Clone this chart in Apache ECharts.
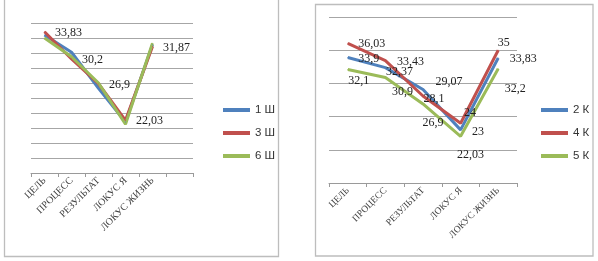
<!DOCTYPE html>
<html>
<head>
<meta charset="utf-8">
<script src="https://cdn.jsdelivr.net/npm/echarts@6/dist/echarts.min.js"></script>
<style>
  html, body { margin: 0; padding: 0; background: #fff; }
  #main { width: 598px; height: 261px; }
</style>
</head>
<body>
<div id="main"></div>
<script>
// левая диаграмма (Ш)
const categoriesLeft = ["ЦЕЛЬ", "ПРОЦЕСС", "РЕЗУЛЬТАТ", "ЛОКУС Я", "ЛОКУС ЖИЗНЬ", ""];
const namesLeft = ["1 Ш", "3 Ш", "6 Ш"];
const values1Sh = [33.4, 31.1, 26.3, 21.8, 32.1];
const values3Sh = [33.83, 30.2, 26.9, 22.03, 31.87];
const values6Sh = [33.0, 30.5, 27.0, 21.5, 32.3];

// правая диаграмма (К)
const categoriesRight = ["ЦЕЛЬ", "ПРОЦЕСС", "РЕЗУЛЬТАТ", "ЛОКУС Я", "ЛОКУС ЖИЗНЬ"];
const namesRight = ["2 К", "4 К", "5 К"];
const values2K = [33.9, 32.37, 29.07, 23, 33.83];
const values4K = [36.03, 33.43, 28.1, 24, 35];
const values5K = [32.1, 30.9, 26.9, 22.03, 32.2];

// сдвиги подписей (в исходнике подписи двигали вручную)
const offsets2K = [[10, 1], [0, 4], [12, -8], [11, 2], [11, 1]];
const offsets4K = [[10, 0], [11, 1], [0, 3], [3, -10], [-1, -7]];
const offsets5K = [[0, 11], [6, 14], [-1, 19], [-4, 19], [6, 20]];

const colors = ["#4F81BD", "#C0504D", "#9BBB59"];
const fmt = v => String(v).replace(".", ",");
const labelFont = { fontFamily: "Liberation Serif", fontSize: 12, color: "#222" };

function withOffsets(values, offsets) {
  return values.map((v, i) => ({
    value: v,
    label: { show: true, position: "right", distance: 0, offset: offsets[i] }
  }));
}

function lineSeries(name, data, color, idx, label) {
  return {
    name: name,
    type: "line",
    xAxisIndex: idx,
    yAxisIndex: idx,
    data: data,
    symbol: "circle",
    symbolSize: 1,
    lineStyle: { color: color, width: 3 },
    itemStyle: { color: color },
    label: label || { show: false },
    animation: false
  };
}

function catAxis(idx, data, size) {
  return {
    type: "category",
    gridIndex: idx,
    data: data,
    boundaryGap: true,
    axisLine: { lineStyle: { color: "#9a9a9a" } },
    axisTick: { show: true, length: 4, lineStyle: { color: "#9a9a9a" } },
    axisLabel: {
      rotate: 45,
      interval: 0,
      margin: 6,
      fontFamily: "Liberation Serif",
      fontSize: size,
      color: "#404040"
    },
    splitLine: { show: false }
  };
}

function valAxis(idx, min, max, interval) {
  return {
    type: "value",
    gridIndex: idx,
    min: min,
    max: max,
    interval: interval,
    axisLine: { show: false },
    axisTick: { show: false },
    axisLabel: { show: false },
    splitLine: { lineStyle: { color: "#a6a6a6", width: 1 } }
  };
}

function legendAt(left, top, names) {
  return {
    orient: "vertical",
    left: left,
    top: top,
    data: names,
    icon: "rect",
    itemWidth: 27,
    itemHeight: 4,
    itemGap: 9,
    itemTextGap: 3,
    selectedMode: false,
    textStyle: { fontFamily: "Liberation Sans", fontSize: 11.5, color: "#333", lineHeight: 14 }
  };
}

let chart = echarts.init(document.getElementById("main"));
let option = {
  animation: false,
  color: colors,
  graphic: [
    { type: "rect", shape: { x: 4.5, y: -3, width: 274, height: 259.5 }, style: { fill: "none", stroke: "#bdbdbd", lineWidth: 1.3 } },
    { type: "rect", shape: { x: 315.5, y: 4.5, width: 277.5, height: 251.5 }, style: { fill: "none", stroke: "#bdbdbd", lineWidth: 1.3 } }
  ],
  grid: [
    { left: 31, top: 23, width: 162, height: 150 },
    { left: 329, top: 17, width: 188, height: 166 }
  ],
  legend: [legendAt(218, 98, namesLeft), legendAt(536, 98, namesRight)],
  xAxis: [catAxis(0, categoriesLeft, 10), catAxis(1, categoriesRight, 9.5)],
  yAxis: [valAxis(0, 15, 35, 2), valAxis(1, 15, 40, 5)],
  series: [
    lineSeries(namesLeft[0], values1Sh, colors[0], 0),
    lineSeries(namesLeft[1], values3Sh, colors[1], 0, Object.assign({
      show: true, position: "right", distance: 10, offset: [0, 1],
      formatter: p => fmt(p.value)
    }, labelFont)),
    lineSeries(namesLeft[2], values6Sh, colors[2], 0),
    lineSeries(namesRight[0], withOffsets(values2K, offsets2K), colors[0], 1,
      Object.assign({ show: true, formatter: p => fmt(p.value) }, labelFont)),
    lineSeries(namesRight[1], withOffsets(values4K, offsets4K), colors[1], 1,
      Object.assign({ show: true, formatter: p => fmt(p.value) }, labelFont)),
    lineSeries(namesRight[2], withOffsets(values5K, offsets5K), colors[2], 1,
      Object.assign({ show: true, formatter: p => fmt(p.value) }, labelFont))
  ]
};
chart.setOption(option);
</script>
</body>
</html>
